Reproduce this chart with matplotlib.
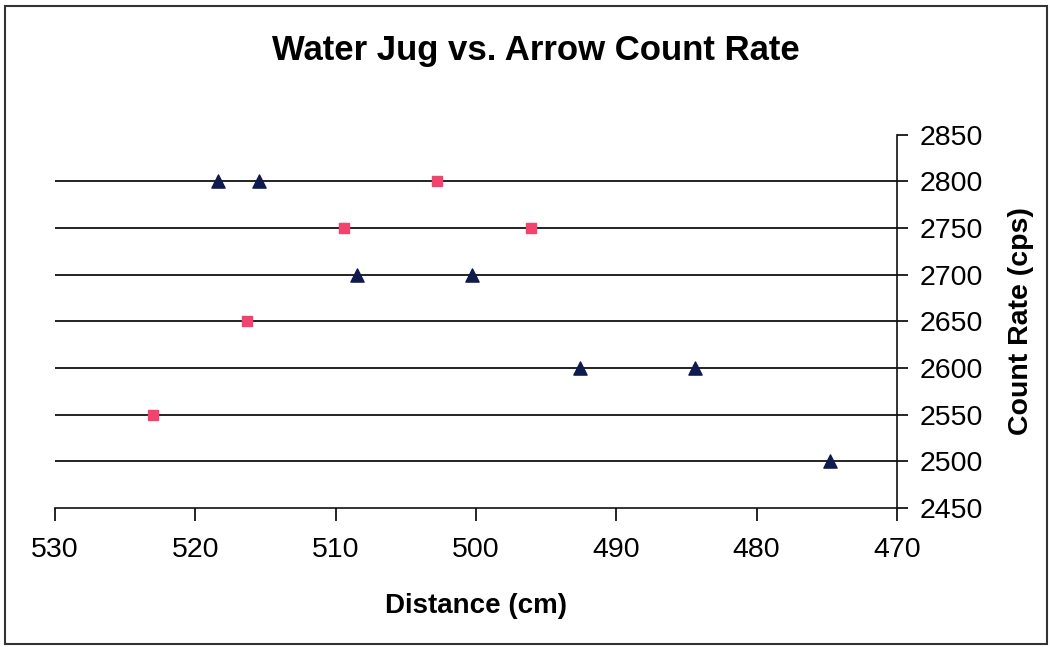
import numpy as np
import matplotlib.pyplot as plt
from matplotlib.patches import Rectangle

# data
tri_dist = [518.4, 515.5, 508.5, 500.3, 492.6, 484.4, 474.8]
tri_rate = [2800, 2800, 2700, 2700, 2600, 2600, 2500]
sq_dist = [502.8, 509.4, 496.1, 516.3, 523.0]
sq_rate = [2800, 2750, 2750, 2650, 2550]
line_levels = [2500, 2550, 2600, 2650, 2700, 2750, 2800]

x_ticks = [530, 520, 510, 500, 490, 480, 470]
y_ticks = [2450, 2500, 2550, 2600, 2650, 2700, 2750, 2800, 2850]

plt.rcParams['font.family'] = ['Liberation Sans', 'DejaVu Sans']

fig = plt.figure(figsize=(10.5, 6.47), dpi=100)
ax = fig.add_axes([0.0524, 0.2148, 0.8019, 0.5773])

# horizontal lines at each count-rate level
ax.hlines(line_levels, 530, 470, colors='#111111', linewidth=1.3, zorder=1)

ax.scatter(tri_dist, tri_rate, marker='^', s=90, color='#0f1a4d', zorder=3)
ax.scatter(sq_dist, sq_rate, marker='s', s=60, color='#f2436e', zorder=3)

ax.set_xlim(530, 470)
ax.set_ylim(2450, 2850)
ax.set_xticks(x_ticks)
ax.set_yticks(y_ticks)

ax.yaxis.tick_right()
ax.yaxis.set_label_position('right')
for s in ['top', 'left']:
    ax.spines[s].set_visible(False)
for s in ['bottom', 'right']:
    ax.spines[s].set_linewidth(1.2)
    ax.spines[s].set_color('#111111')

ax.tick_params(axis='x', direction='out', length=9, width=1.2, labelsize=20.5, pad=12)
ax.tick_params(axis='y', direction='out', length=8, width=1.2, labelsize=20.5, pad=8)

ax.set_xlabel('Distance (cm)', fontsize=20, fontweight='bold')
ax.xaxis.set_label_coords(0.5, -0.228)
ax.set_ylabel('Count Rate (cps)', fontsize=20.5, fontweight='bold', va='center')
ax.yaxis.set_label_coords(1.147, 0.5)

fig.text(0.51, 0.922, 'Water Jug vs. Arrow Count Rate', ha='center', va='center',
         fontsize=25, fontweight='bold')

# outer border of the chart area
fig.patches.append(Rectangle((0.005, 0.004), 0.992, 0.986, transform=fig.transFigure,
                             fill=False, edgecolor='#333333', linewidth=1.5))

fig.savefig('out.png', dpi=100)
